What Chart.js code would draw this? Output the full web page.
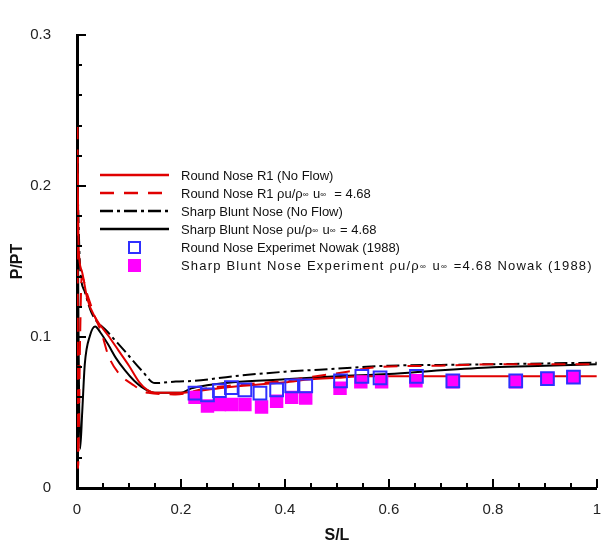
<!DOCTYPE html>
<html>
<head>
<meta charset="utf-8">
<script src="https://cdn.jsdelivr.net/npm/chart.js@4/dist/chart.umd.min.js"></script>
<style>
  body { margin: 0; background: #fff; }
  canvas { display: block; }
</style>
</head>
<body>
<canvas id="chart" width="614" height="549"></canvas>
<script>
// Round Nose R1 (No Flow)
const roundNoFlowX = [0.001, 0.003, 0.009, 0.02, 0.035, 0.06, 0.08, 0.1, 0.12, 0.135, 0.15, 0.2, 0.25, 0.3, 0.4, 0.45, 0.5, 0.55, 0.6, 0.7, 0.8, 0.9, 1.0];
const roundNoFlowY = [0.22, 0.16, 0.144, 0.125, 0.113, 0.101, 0.091, 0.081, 0.07, 0.065, 0.063, 0.063, 0.065, 0.067, 0.070, 0.072, 0.073, 0.074, 0.074, 0.074, 0.074, 0.074, 0.074];

// Round Nose R1 with flow
const roundFlowX = [0.001, 0.002, 0.006, 0.009, 0.02, 0.035, 0.047, 0.06, 0.08, 0.105, 0.137, 0.19, 0.25, 0.3, 0.4, 0.46, 0.52, 0.575, 0.7, 0.8, 0.9, 1.0];
const roundFlowY = [0.24, 0.013, 0.10, 0.14, 0.128, 0.113, 0.103, 0.088, 0.076, 0.069, 0.063, 0.062, 0.066, 0.068, 0.071, 0.074, 0.077, 0.080, 0.081, 0.082, 0.082, 0.082];

// Sharp Blunt Nose (No Flow)
const sharpNoFlowX = [0.001, 0.006, 0.015, 0.028, 0.06, 0.092, 0.124, 0.15, 0.19, 0.227, 0.3, 0.4, 0.5, 0.6, 0.7, 0.8, 0.9, 1.0];
const sharpNoFlowY = [0.20, 0.146, 0.13, 0.116, 0.103, 0.0906, 0.078, 0.0695, 0.0705, 0.071, 0.074, 0.077, 0.079, 0.081, 0.0815, 0.082, 0.0825, 0.083];

// Sharp Blunt Nose with flow
const sharpFlowX = [0.0, 0.002, 0.006, 0.01, 0.015, 0.025, 0.035, 0.045, 0.06, 0.075, 0.092, 0.11, 0.124, 0.15, 0.2, 0.22, 0.25, 0.3, 0.4, 0.5, 0.6, 0.7, 0.8, 0.9, 1.0];
const sharpFlowY = [0.30, 0.15, 0.026, 0.05, 0.082, 0.101, 0.107, 0.103, 0.095, 0.086, 0.078, 0.071, 0.067, 0.063, 0.063, 0.066, 0.068, 0.070, 0.072, 0.074, 0.0755, 0.078, 0.080, 0.081, 0.082];

// Experiments, Nowak (1988)
const roundExpX = [0.227, 0.251, 0.274, 0.297, 0.323, 0.352, 0.384, 0.413, 0.440, 0.507, 0.548, 0.583, 0.653, 0.723, 0.844, 0.905, 0.955];
const roundExpY = [0.0628, 0.0617, 0.0645, 0.0665, 0.065, 0.0628, 0.065, 0.0677, 0.0677, 0.071, 0.0739, 0.073, 0.0739, 0.071, 0.071, 0.0724, 0.0735];
const sharpExpX = [0.227, 0.251, 0.274, 0.297, 0.323, 0.355, 0.384, 0.413, 0.440, 0.506, 0.546, 0.586, 0.652, 0.723, 0.844, 0.905, 0.955];
const sharpExpY = [0.060, 0.0543, 0.0553, 0.0553, 0.0553, 0.0536, 0.0575, 0.060, 0.0596, 0.066, 0.0703, 0.0703, 0.071, 0.0703, 0.0703, 0.0724, 0.0735];

const xTickLabels = ['0', '0.2', '0.4', '0.6', '0.8', '1'];
const yTickLabels = ['0', '0.1', '0.2', '0.3'];

const RED = '#e00000';
const BLUE = '#2f2fff';
const MAGENTA = '#ff00ff';
const FONT = '"Liberation Sans", Arial, sans-serif';

function pts(xs, ys) {
    return xs.map((x, i) => ({x: x, y: ys[i]}));
}

function lineSet(label, xs, ys, color, dash) {
    return {
        label: label,
        data: pts(xs, ys),
        showLine: true,
        borderColor: color,
        backgroundColor: color,
        borderWidth: 2,
        borderDash: dash,
        pointRadius: 0,
        cubicInterpolationMode: 'monotone',
        order: 2
    };
}

// inward tick marks, major ones where a label is shown
const innerTicks = {
    id: 'innerTicks',
    afterDraw(chart) {
        const ctx = chart.ctx;
        const area = chart.chartArea;
        const xs = chart.scales.x, ys = chart.scales.y;
        ctx.save();
        ctx.strokeStyle = '#000';
        ctx.lineWidth = 2;
        xs.ticks.forEach(t => {
            const px = Math.round(xs.getPixelForValue(t.value));
            const len = t.label !== '' ? 9 : 5;
            ctx.beginPath();
            ctx.moveTo(px, area.bottom);
            ctx.lineTo(px, area.bottom - len);
            ctx.stroke();
        });
        ys.ticks.forEach(t => {
            const py = Math.round(ys.getPixelForValue(t.value));
            const len = t.label !== '' ? 9 : 5;
            ctx.beginPath();
            ctx.moveTo(area.left, py);
            ctx.lineTo(area.left + len, py);
            ctx.stroke();
        });
        ctx.restore();
    }
};

// writes a label, with the infinity signs in a smaller size
function drawLabel(ctx, text, x, y) {
    const parts = text.split('\u221e');
    parts.forEach((p, i) => {
        ctx.font = '13px ' + FONT;
        ctx.fillText(p, x, y);
        x += ctx.measureText(p).width;
        if (i < parts.length - 1) {
            ctx.font = '8px ' + FONT;
            ctx.fillText('\u221e', x, y + 1);
            x += ctx.measureText('\u221e').width + 1;
        }
    });
}

// legend drawn inside the plot area
const innerLegend = {
    id: 'innerLegend',
    afterDraw(chart) {
        const ctx = chart.ctx;
        const rows = [175, 193, 211, 229, 247, 265];
        ctx.save();
        ctx.textBaseline = 'middle';
        chart.data.datasets.forEach((ds, i) => {
            const y = rows[i];
            if (ds.showLine) {
                ctx.strokeStyle = ds.borderColor;
                ctx.lineWidth = 2.5;
                ctx.setLineDash(ds.borderDash || []);
                ctx.beginPath();
                ctx.moveTo(100, y);
                ctx.lineTo(169, y);
                ctx.stroke();
                ctx.setLineDash([]);
            } else if (ds.backgroundColor === 'transparent') {
                ctx.strokeStyle = ds.borderColor;
                ctx.lineWidth = 2;
                ctx.strokeRect(129, y - 5, 11, 11);
            } else {
                ctx.fillStyle = ds.backgroundColor;
                ctx.fillRect(128, y - 6, 13, 13);
            }
            ctx.fillStyle = '#111';
            ctx.letterSpacing = i === 5 ? '1.2px' : '0px';
            drawLabel(ctx, ds.label, 181, y + 1);
        });
        ctx.restore();
    }
};

const ctx = document.getElementById('chart').getContext('2d');
new Chart(ctx, {
    type: 'scatter',
    data: {
        datasets: [
            lineSet('Round Nose R1 (No Flow)', roundNoFlowX, roundNoFlowY, RED, []),
            lineSet('Round Nose R1 \u03c1u/\u03c1\u221e u\u221e  = 4.68', roundFlowX, roundFlowY, RED, [14, 10]),
            lineSet('Sharp Blunt Nose (No Flow)', sharpNoFlowX, sharpNoFlowY, '#000', [13, 4, 3, 4]),
            lineSet('Sharp Blunt Nose \u03c1u/\u03c1\u221e u\u221e = 4.68', sharpFlowX, sharpFlowY, '#000', []),
            {
                label: 'Round Nose Experimet Nowak (1988)',
                data: pts(roundExpX, roundExpY),
                pointStyle: 'rect',
                pointRadius: 9,
                borderColor: BLUE,
                backgroundColor: 'transparent',
                pointBorderWidth: 2,
                borderWidth: 2,
                order: 0
            },
            {
                label: 'Sharp Blunt Nose Experiment \u03c1u/\u03c1\u221e u\u221e =4.68 Nowak (1988)',
                data: pts(sharpExpX, sharpExpY),
                pointStyle: 'rect',
                pointRadius: 9.5,
                borderColor: MAGENTA,
                backgroundColor: MAGENTA,
                pointBorderWidth: 0,
                borderWidth: 0,
                order: 1
            }
        ]
    },
    options: {
        responsive: false,
        animation: false,
        devicePixelRatio: 1,
        layout: { padding: { top: 20, right: 17, left: 0, bottom: 0 } },
        plugins: {
            legend: { display: false },
            tooltip: { enabled: false }
        },
        scales: {
            x: {
                type: 'linear',
                min: 0,
                max: 1,
                afterFit: s => { s.height = 61; },
                grid: { display: false, drawTicks: false },
                border: { display: true, width: 3, color: '#000' },
                ticks: {
                    stepSize: 0.05,
                    autoSkip: false,
                    maxRotation: 0,
                    padding: 13,
                    color: '#222',
                    font: { size: 15, family: FONT },
                    callback: v => {
                        const k = Math.round(v * 5);
                        return Math.abs(v * 5 - k) < 1e-6 ? xTickLabels[k] : '';
                    }
                },
                title: {
                    display: true,
                    text: 'S/L',
                    color: '#111',
                    font: { size: 16, weight: 'bold', family: FONT },
                    padding: { top: 4, bottom: 4 }
                }
            },
            y: {
                type: 'linear',
                min: 0,
                max: 0.3,
                afterFit: s => { s.width = 77; },
                grid: { display: false, drawTicks: false },
                border: { display: true, width: 3, color: '#000' },
                ticks: {
                    stepSize: 0.02,
                    autoSkip: false,
                    padding: 26,
                    color: '#222',
                    font: { size: 15, family: FONT },
                    callback: v => {
                        const k = Math.round(v * 10);
                        return Math.abs(v * 10 - k) < 1e-6 ? yTickLabels[k] : '';
                    }
                },
                title: {
                    display: true,
                    text: 'P/PT',
                    color: '#111',
                    font: { size: 16, weight: 'bold', family: FONT },
                    padding: { top: 8, bottom: 4 }
                }
            }
        }
    },
    plugins: [innerTicks, innerLegend]
});
</script>
</body>
</html>
